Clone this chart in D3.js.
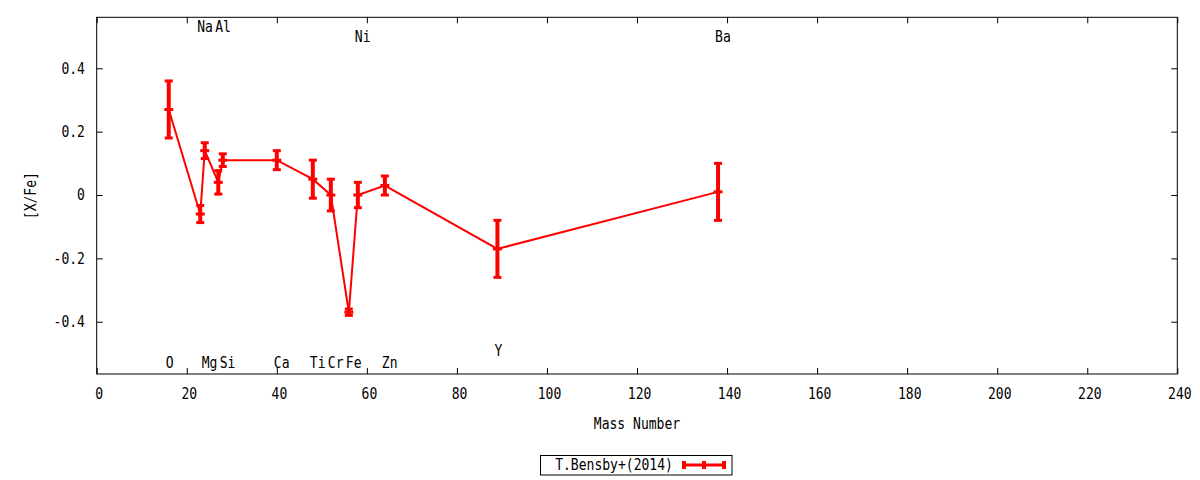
<!DOCTYPE html>
<html>
<head>
<meta charset="utf-8">
<script src="https://cdn.jsdelivr.net/npm/d3@7"></script>
<style>
  body { margin: 0; background: #fff; }
  text { font-family: "DejaVu Sans Mono", monospace; font-size: 15px; fill: #000; }
</style>
</head>
<body>
<script>
// chart data
var elements = ["O", "Na", "Mg", "Al", "Si", "Ca", "Ti", "Cr", "Fe", "Ni", "Zn", "Y", "Ba"];
var massNumber = [16, 23, 24, 27, 28, 40, 48, 52, 56, 58, 64, 89, 138];
var xFe = [0.27, -0.06, 0.14, 0.04, 0.11, 0.11, 0.05, 0.00, -0.37, 0.00, 0.03, -0.17, 0.01];
var xFeErr = [0.09, 0.027, 0.025, 0.037, 0.02, 0.03, 0.06, 0.05, 0.01, 0.04, 0.03, 0.09, 0.09];
var labelY = [-0.53, 0.53, -0.53, 0.53, -0.53, -0.53, -0.53, -0.53, -0.53, 0.5, -0.53, -0.49, 0.5];
var xTicks = [0, 20, 40, 60, 80, 100, 120, 140, 160, 180, 200, 220, 240];
var yTicks = [-0.4, -0.2, 0, 0.2, 0.4];
var seriesName = "T.Bensby+(2014)";

var w = 1200, h = 480;
//plot frame edges (window.top is reserved, so p-prefixed names)
var pLeft = 96.7, pRight = 1177.3, pTop = 17.3, pBottom = 374;
var squeeze = "scale(0.87,1)"; //narrow the mono font like the original
var red = "#ff0000";

var svg = d3.select("body")
    .append("svg")
    .attr("width", w)
    .attr("height", h);

var x = d3.scaleLinear()
    .domain([0, 240])
    .range([pLeft, pRight]);

var y = d3.scaleLinear()
    .domain([-0.565, 0.561])
    .range([pBottom, pTop]);

var points = elements.map(function(d, i){
    return {el: d, m: massNumber[i], v: xFe[i], e: xFeErr[i], ly: labelY[i]};
});

//axes, ticks pointing inward
var xAxis = svg.append("g")
    .attr("transform", "translate(0," + pBottom + ")")
    .call(d3.axisBottom(x).tickValues(xTicks).tickSizeInner(-6).tickSizeOuter(0).tickPadding(14));
xAxis.selectAll(".tick text").attr("x", 2.4).attr("transform", squeeze);

svg.append("g")
    .attr("transform", "translate(0," + pTop + ")")
    .call(d3.axisTop(x).tickValues(xTicks).tickSizeInner(-6).tickSizeOuter(0).tickFormat(""));

var yAxis = svg.append("g")
    .attr("transform", "translate(" + pLeft + ",0)")
    .call(d3.axisLeft(y).tickValues(yTicks).tickSizeInner(-6).tickSizeOuter(0)
        .tickFormat(function(d){ return d === 0 ? "0" : d.toFixed(1); }));
yAxis.selectAll(".tick text").attr("x", -13.5).attr("transform", squeeze);

svg.append("g")
    .attr("transform", "translate(" + pRight + ",0)")
    .call(d3.axisRight(y).tickValues(yTicks).tickSizeInner(-6).tickSizeOuter(0).tickFormat(""));

svg.selectAll(".domain").remove();
svg.selectAll("g").attr("font-family", null).attr("font-size", null);
svg.selectAll(".tick line").attr("stroke", "#000");

//frame
svg.append("rect")
    .attr("x", pLeft).attr("y", pTop)
    .attr("width", pRight - pLeft).attr("height", pBottom - pTop)
    .attr("fill", "none").attr("stroke", "#000").attr("stroke-width", 1);

//axis titles
svg.append("text")
    .attr("transform", "translate(637,424) " + squeeze)
    .attr("text-anchor", "middle")
    .attr("dominant-baseline", "central")
    .text("Mass Number");

svg.append("text")
    .attr("transform", "translate(31," + (pTop + pBottom) / 2 + ") rotate(-90) " + squeeze)
    .attr("text-anchor", "middle")
    .attr("dominant-baseline", "central")
    .text("[X/Fe]");

//element labels
svg.selectAll(".elLabel")
    .data(points)
    .enter()
    .append("text")
    .attr("class", "elLabel")
    .attr("transform", function(d){
        return "translate(" + (x(d.m) - 3) + "," + y(d.ly) + ") " + squeeze;
    })
    .attr("dominant-baseline", "central")
    .text(function(d){ return d.el; });

//connecting line
var line = d3.line()
    .x(function(d){ return x(d.m); })
    .y(function(d){ return y(d.v); });

svg.append("path")
    .datum(points)
    .attr("d", line)
    .attr("fill", "none")
    .attr("stroke", red)
    .attr("stroke-width", 2);

//error bars
var bars = svg.selectAll(".bar")
    .data(points)
    .enter()
    .append("g")
    .attr("class", "bar")
    .attr("stroke", red);

bars.append("line")
    .attr("x1", function(d){ return x(d.m); })
    .attr("x2", function(d){ return x(d.m); })
    .attr("y1", function(d){ return y(d.v + d.e); })
    .attr("y2", function(d){ return y(d.v - d.e); })
    .attr("stroke-width", 4);

bars.selectAll(".cap")
    .data(function(d){ return [d.v + d.e, d.v - d.e].map(function(v){ return {m: d.m, v: v}; }); })
    .enter()
    .append("line")
    .attr("class", "cap")
    .attr("x1", function(d){ return x(d.m) - 4; })
    .attr("x2", function(d){ return x(d.m) + 4; })
    .attr("y1", function(d){ return y(d.v); })
    .attr("y2", function(d){ return y(d.v); })
    .attr("stroke-width", 3);

bars.append("line")
    .attr("x1", function(d){ return x(d.m) - 4.5; })
    .attr("x2", function(d){ return x(d.m) + 4.5; })
    .attr("y1", function(d){ return y(d.v); })
    .attr("y2", function(d){ return y(d.v); })
    .attr("stroke-width", 3);

//legend
var legend = svg.append("g");
legend.append("rect")
    .attr("x", 540.5).attr("y", 455.5)
    .attr("width", 191.5).attr("height", 19.5)
    .attr("fill", "#fff").attr("stroke", "#000");
legend.append("text")
    .attr("transform", "translate(614,465) " + squeeze)
    .attr("text-anchor", "middle")
    .attr("dominant-baseline", "central")
    .text(seriesName);
legend.append("line")
    .attr("x1", 684).attr("x2", 724).attr("y1", 465).attr("y2", 465)
    .attr("stroke", red).attr("stroke-width", 3);
[684, 704, 724].forEach(function(px){
    legend.append("line")
        .attr("x1", px).attr("x2", px).attr("y1", 461).attr("y2", 469)
        .attr("stroke", red).attr("stroke-width", 4);
});
</script>
</body>
</html>
